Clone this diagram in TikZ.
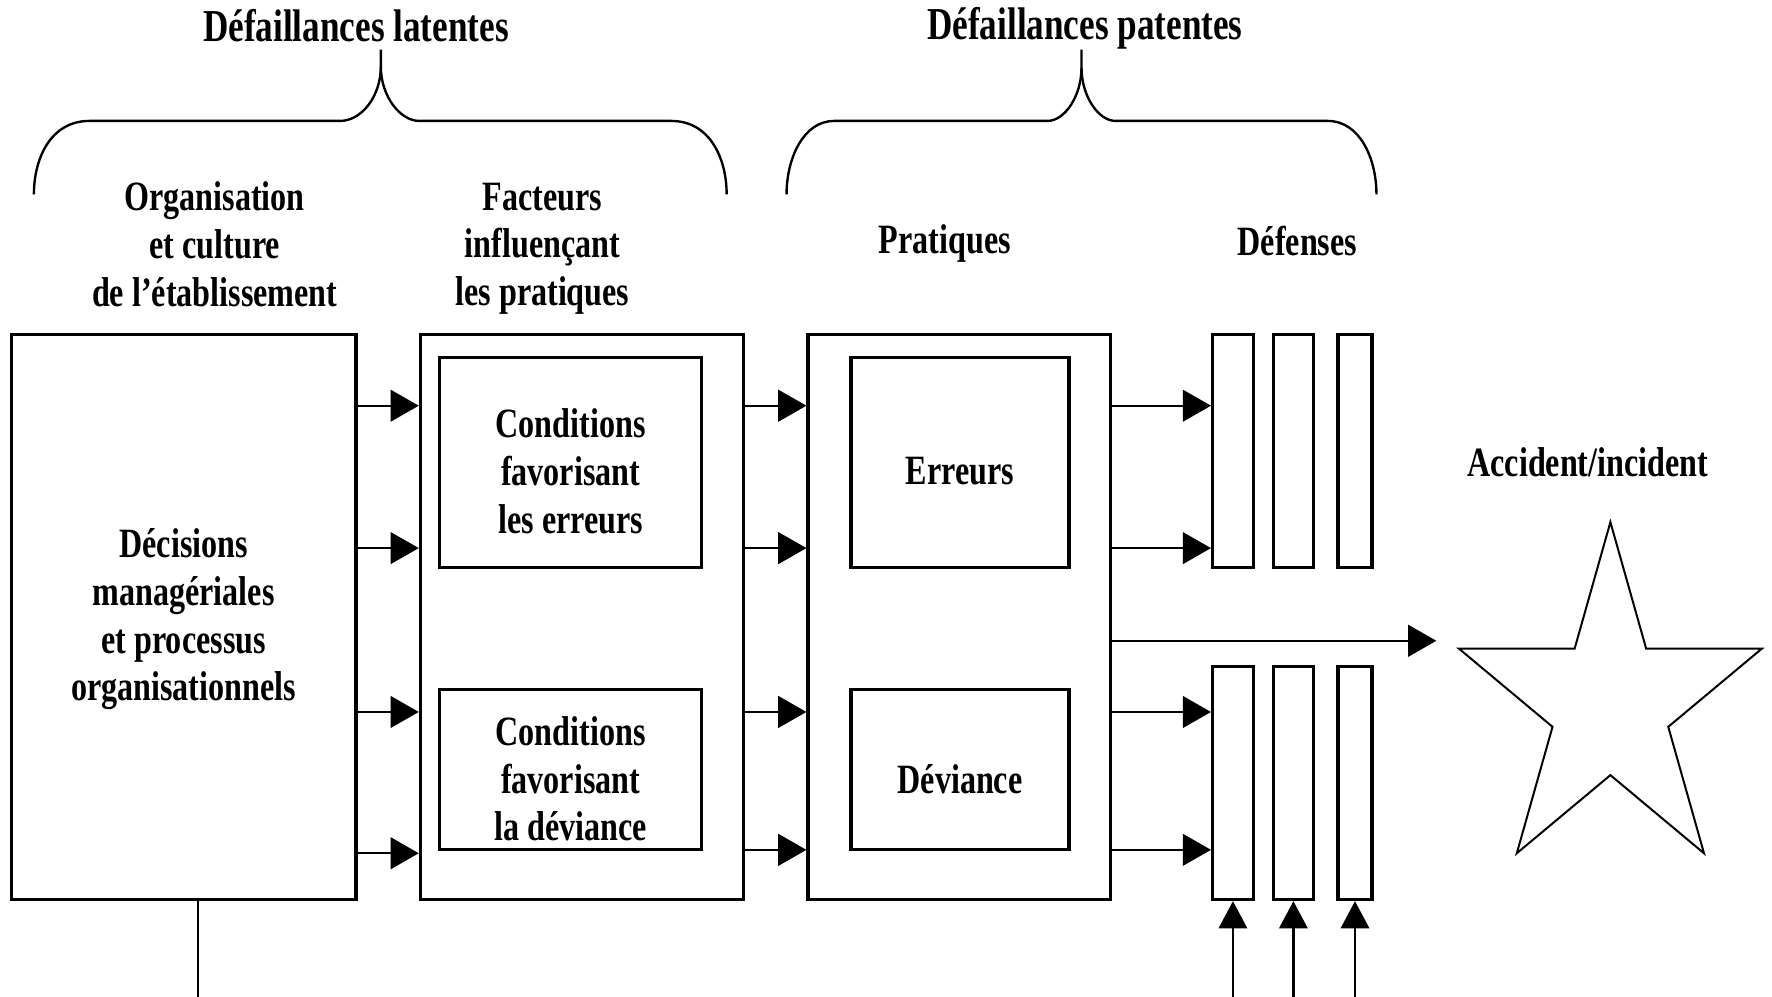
\documentclass[tikz,border=0pt]{standalone}
\usepackage{fontspec}
\setmainfont[FakeStretch=0.77]{Liberation Serif}
\usetikzlibrary{arrows.meta}
\usetikzlibrary{shapes.geometric}
\tikzset{box/.style={draw, line width=0.8pt, inner sep=0pt}}
\tikzset{txt/.style={align=center, font=\bfseries\fontsize{10.5}{12}\selectfont}}
\tikzset{titre/.style={font=\bfseries\fontsize{11.5}{13}\selectfont}}
\tikzset{arr/.style={line width=0.6pt, -{Triangle[length=2.5mm,width=2.8mm]}}}
\tikzset{uparr/.style={line width=0.6pt, -{Triangle[length=2.4mm,width=2.5mm]}}}
\tikzset{brace/.style={line width=0.6pt}}

\begin{document}
\begin{tikzpicture}[x=0.1mm,y=-0.1mm]
\useasboundingbox (0,0) rectangle (1568,882);
% titres
\node[titre] (lat) at (315,23) {Défaillances latentes};
\node[titre] (pat) at (960,25) {Défaillances patentes};
\draw[brace] (30,172) .. controls (30,140) and (45,107) .. (79,107) -- (301,107)
  .. controls (320,107) and (337,85) .. (337,59) -- (337,44);
\draw[brace] (337,59) .. controls (337,85) and (354,107) .. (371,107) -- (594,107)
  .. controls (628,107) and (643,140) .. (643,172);
\draw[brace] (696,172) .. controls (696,140) and (711,107) .. (738,107) -- (927,107)
  .. controls (942,107) and (957,85) .. (957,60) -- (957,44);
\draw[brace] (957,60) .. controls (957,85) and (972,107) .. (987,107) -- (1175,107)
  .. controls (1203,107) and (1218,140) .. (1218,172);
\node[txt] (org) at (190,216) {Organisation\\et culture\\de l’établissement};
\node[txt] (fac) at (480,220) {Facteurs\\influençant\\les pratiques};
\node[txt] (prat) at (836,215) {Pratiques};
\node[txt] (defl) at (1148,213) {Défenses};
\node[txt] (accl) at (1405,409) {Accident/incident};
% boites
\node[box, minimum width=3.05cm, minimum height=5cm,
  label={[txt,yshift=-0.6pt]center:Décisions\\managériales\\et processus\\organisationnels}] (dec) at (162.5,546) {};
\node[box, minimum width=2.86cm, minimum height=5cm] (cond) at (515,546) {};
\node[box, minimum width=2.32cm, minimum height=1.86cm,
  label={[txt,yshift=-2.3pt]center:Conditions\\favorisant\\les erreurs}] (cerr) at (505,409) {};
\node[box, minimum width=2.32cm, minimum height=1.42cm,
  label={[txt,yshift=-2.3pt]center:Conditions\\favorisant\\la déviance}] (cdev) at (505,681) {};
\node[box, minimum width=2.68cm, minimum height=5cm] (pc) at (849,546) {};
\node[box, minimum width=1.93cm, minimum height=1.86cm,
  label={[txt,yshift=-2.3pt]center:Erreurs}] (err) at (849.5,409) {};
\node[box, minimum width=1.93cm, minimum height=1.42cm,
  label={[txt,yshift=-2.3pt]center:Déviance}] (dev) at (849.5,681) {};
% defenses
\foreach \n/\x/\w in {1/1091/.36,2/1144.5/.35,3/1199/.30} {
\node[box, minimum width=\w cm, minimum height=2.06cm] (dt\n) at (\x,399) {};
\node[box, minimum width=\w cm, minimum height=2.06cm] (db\n) at (\x,693) {};
}
\begin{scope}[shift={(1425,624)}, xscale=.87]
\node[draw, line width=0.5pt, star, star points=5, star point ratio=2.618,
  minimum size=3.24cm, inner sep=0pt, transform shape] (acc) at (0,0) {};
\end{scope}
% fleches
\foreach \y in {359,485,630,755}
\draw[arr] (dec.east |- 0,\y) -- (cond.west |- 0,\y);
\foreach \y in {359,485,630,752}
\draw[arr] (cond.east |- 0,\y) -- (pc.west |- 0,\y);
\foreach \y in {359,485}
\draw[arr] (pc.east |- 0,\y) -- (dt1.west |- 0,\y);
\foreach \y in {630,752}
\draw[arr] (pc.east |- 0,\y) -- (db1.west |- 0,\y);
\coordinate (hit) at (1271,567);
\draw[arr] (pc.east |- hit) -- (hit);
\foreach \n in {1,2,3}
\draw[uparr] (db\n.south |- 0,882) -- (db\n.south);
\draw[line width=0.5pt] (dec.south -| 175,0) -- (175,882);
\end{tikzpicture}
\end{document}
